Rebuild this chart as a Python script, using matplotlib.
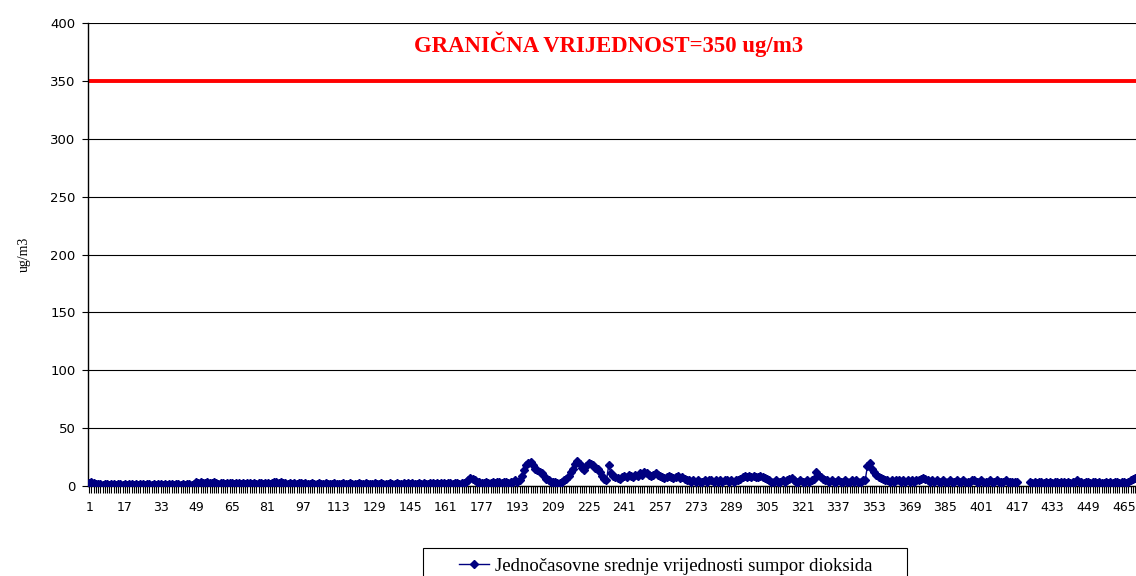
import numpy as np
import matplotlib.pyplot as plt
from matplotlib.patches import Rectangle

# jednocasovne srednje vrijednosti SO2 (ug/m3), po satima
nan = np.nan
so2 = [
    3, 4, 3, 2, 2, 2, 1, 2, 2, 1, 2, 2, 1, 2, 2, 1,
    2, 1, 2, 2, 1, 2, 1, 2, 2, 1, 2, 2, 1, 2, 1, 2,
    2, 1, 2, 1, 2, 2, 1, 2, 2, 1, 2, 1, 2, 2, 1, 2,
    4, 3, 4, 3, 3, 4, 3, 3, 4, 3, 2, 3, 3, 2, 3, 3,
    3, 2, 3, 3, 2, 3, 2, 3, 3, 2, 3, 2, 3, 3, 2, 3,
    3, 2, 3, 4, 4, 3, 4, 3, 3, 2, 3, 2, 3, 2, 3, 3,
    2, 3, 2, 2, 3, 2, 2, 3, 2, 2, 3, 2, 2, 2, 3, 2,
    2, 2, 3, 2, 2, 3, 2, 2, 2, 3, 2, 2, 3, 2, 2, 2,
    3, 2, 2, 3, 2, 2, 2, 3, 2, 2, 3, 2, 2, 3, 2, 3,
    2, 3, 2, 2, 3, 2, 3, 2, 2, 3, 3, 2, 3, 2, 3, 3,
    2, 3, 3, 2, 3, 3, 2, 3, 3, 4, 5, 7, 6, 5, 4, 4,
    3, 3, 4, 3, 3, 4, 3, 4, 4, 3, 4, 4, 3, 4, 4, 5,
    4, 5, 9, 14, 18, 20, 21, 18, 15, 14, 12, 11, 9, 6, 5, 4,
    4, 4, 3, 3, 4, 5, 6, 9, 12, 15, 19, 22, 19, 16, 14, 17,
    20, 19, 18, 16, 15, 12, 9, 6, 5, 18, 11, 9, 8, 7, 6, 8,
    9, 8, 10, 9, 8, 10, 9, 11, 10, 12, 11, 10, 9, 10, 11, 10,
    9, 8, 7, 8, 9, 8, 7, 8, 9, 7, 8, 6, 5, 5, 4, 5,
    4, 5, 4, 4, 5, 4, 5, 5, 4, 5, 4, 5, 4, 5, 5, 4,
    5, 4, 5, 5, 6, 8, 9, 8, 9, 8, 9, 8, 8, 9, 8, 7,
    6, 5, 4, 4, 5, 4, 4, 5, 4, 5, 6, 7, 5, 4, 4, 5,
    4, 4, 5, 4, 5, 6, 12, 10, 8, 6, 5, 5, 4, 5, 4, 4,
    5, 4, 4, 5, 4, 4, 5, 4, 5, 4, 4, 5, 5, 17, 20, 15,
    12, 10, 8, 7, 6, 5, 5, 4, 5, 4, 5, 5, 4, 5, 4, 5,
    4, 5, 4, 5, 5, 6, 7, 6, 5, 4, 5, 4, 5, 4, 4, 5,
    4, 4, 5, 4, 4, 5, 4, 4, 5, 4, 4, 4, 5, 5, 4, 4,
    5, 4, 4, 4, 5, 4, 4, 5, 4, 4, 4, 5, 4, 4, 4, 4,
    4, nan, nan, nan, nan, nan, 4, 3, 4, 3, 4, 4, 3, 4, 3, 4,
    3, 4, 4, 3, 4, 4, 3, 4, 3, 4, 4, 5, 4, 4, 3, 4,
    4, 3, 4, 4, 3, 4, 3, 3, 4, 3, 4, 3, 4, 4, 3, 4,
    4, 3, 4, 5, 6, 7, 6, 6,
]
sati = np.arange(1, len(so2) + 1)
granica = 350
naslov = 'GRANIČNA VRIJEDNOST=350 ug/m3'
legenda = 'Jednočasovne srednje vrijednosti sumpor dioksida'

fig = plt.figure(figsize=(11.36, 5.76), dpi=100)
# os ide malo preko desnog ruba slike (kao u originalu)
ax = fig.add_axes([0.0775, 0.156, 0.9265, 0.804])

ax.set_ylim(0, 400)
ax.set_yticks(range(0, 401, 50))
ax.yaxis.grid(True, color='black', linewidth=0.8)
ax.set_axisbelow(True)

ax.axhline(granica, color='red', linewidth=2.8, zorder=2)
ax.plot(sati, so2, color='#000080', marker='D', markersize=4.3,
        linewidth=1, label=legenda, zorder=3)

ax.set_xlim(0.5, len(so2) + 0.5)
ax.set_xticks(sati[::16])
ax.set_xticks(sati, minor=True)
ax.tick_params(axis='x', which='both', direction='out', length=5, width=0.8,
               labelsize=9, pad=6)
ax.tick_params(axis='y', direction='out', length=4, labelsize=9.5, pad=5)

for s in ['top', 'right']:
    ax.spines[s].set_visible(False)
ax.spines['left'].set_linewidth(1)
ax.spines['bottom'].set_linewidth(1)

ax.set_ylabel('ug/m3', family='Liberation Serif', fontsize=10, labelpad=14)
fig.text(0.536, 0.924, naslov, color='red', family='Liberation Serif',
         fontweight='bold', fontsize=16.4, ha='center', va='center')

leg = ax.legend(loc='center', bbox_to_anchor=(0.586, 0.017),
                bbox_transform=fig.transFigure, frameon=False,
                prop={'family': 'Liberation Serif', 'size': 13.5},
                handlelength=1.6, handletextpad=0.3)
# okvir legende (donji dio odsjecen kao u originalu)
fig.patches.append(Rectangle((423 / 1136, -0.02), 484 / 1136, 0.069,
                             transform=fig.transFigure, fill=False,
                             edgecolor='black', linewidth=0.8))

fig.savefig('out.png', dpi=100)
